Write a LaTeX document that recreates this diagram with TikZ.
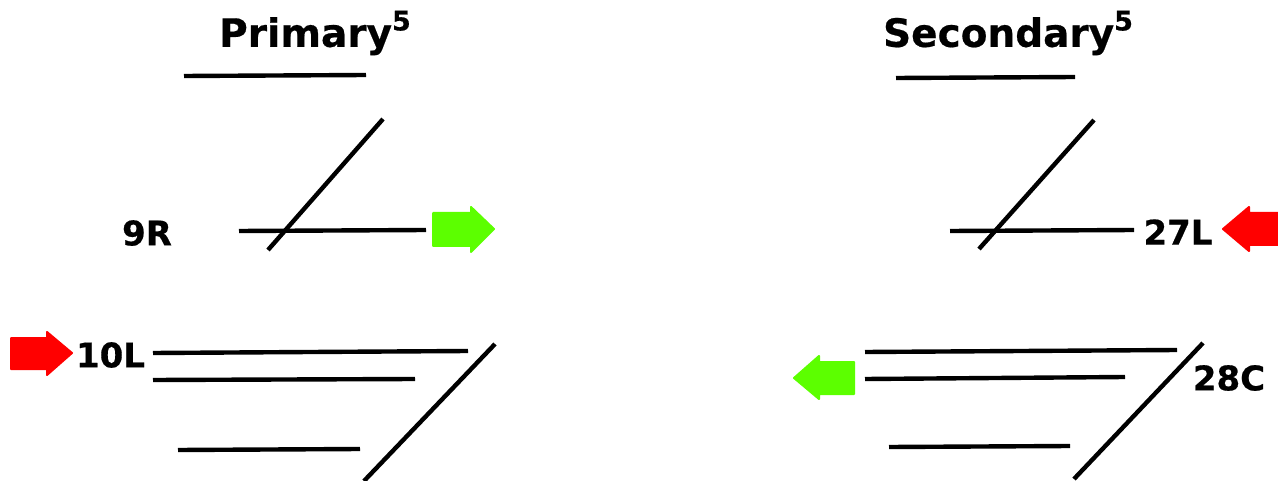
\documentclass[tikz,border=0pt]{standalone}
\usepackage{fontspec}
\setmainfont{DejaVu Sans}
\newfontfamily\vb[FakeBold=0.5]{DejaVu Sans Bold}
\definecolor{goG}{HTML}{5CFF00}
\definecolor{stopR}{HTML}{FF0000}
\tikzset{x=1pt,y=-1pt,
 rw/.style={line width=4.4pt,black},
 lab/.style={font=\vb\fontsize{34}{36}\selectfont,inner sep=0pt,anchor=center},
 ttl/.style={font=\vb\fontsize{39}{41}\selectfont,inner sep=0pt,anchor=center},
 ah/.style={line width=2pt,line join=round},
}
\newcommand{\supfive}{\raisebox{.42em}{\fontsize{27}{29}\selectfont 5}}
\begin{document}
\begin{tikzpicture}
\useasboundingbox (0,0) rectangle (1278,481);
\fill[white] (0,0) rectangle (1278,481);
\node[ttl] (t1) at (315,33) {Primary\supfive};
\node[ttl] (t2) at (1008,33) {Secondary\supfive};
\draw[rw] (184,76)--(366,75);
\draw[rw] (896,78)--(1075,77);
\draw[rw] (383,119)--(268,250);
\draw[rw] (239,231)--(426,230);
\draw[rw] (1094,120)--(979,249);
\draw[rw] (950,231)--(1134,230);
\draw[rw] (153,353)--(468,351);
\draw[rw] (153,380)--(415,379);
\draw[rw] (178,450)--(360,449);
\draw[rw] (495,344)--(364,481);
\draw[rw] (865,352)--(1177,350);
\draw[rw] (865,379)--(1125,377);
\draw[rw] (889,447)--(1070,446);
\draw[rw] (1203,343)--(1074,479);
\node[lab] (a) at (147,233) {9R};
\node[lab] (b) at (110.5,355) {10L};
\node[lab] (c) at (1178,232) {27L};
\node[lab] (d) at (1229,378) {28C};
\filldraw[ah,draw=goG,fill=goG] (433,213)--(471,213)--(471,207)--(494,229)--(471,252)--(471,246)--(433,246)--cycle;
\filldraw[ah,draw=stopR,fill=stopR] (11,338)--(47,338)--(47,332)--(72,353)--(47,375)--(47,369)--(11,369)--cycle;
\filldraw[ah,draw=stopR,fill=stopR] (1279,213)--(1249,213)--(1249,207)--(1223,229)--(1249,251)--(1249,245)--(1279,245)--cycle;
\filldraw[ah,draw=goG,fill=goG] (854,362)--(819,362)--(819,356)--(794,378)--(819,399)--(819,394)--(854,394)--cycle;
\end{tikzpicture}
\end{document}
